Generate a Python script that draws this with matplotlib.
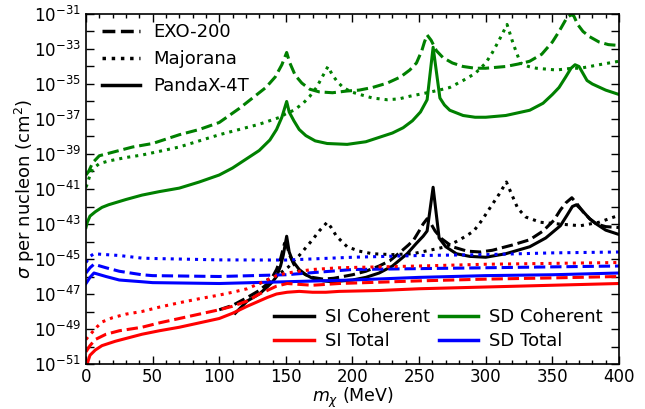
import numpy as np
import matplotlib
matplotlib.use('Agg')
import matplotlib.pyplot as plt
from matplotlib.lines import Line2D
from matplotlib.ticker import FixedLocator, FuncFormatter, MultipleLocator, NullLocator

# values are log10(sigma / cm^2)
# SD coherent (green)
sdc_exo_m = [0, 2, 5, 10, 20, 35, 50, 70, 85, 100, 115, 125, 135, 142, 147, 150.6, 153, 157, 162, 168, 175,
             185, 196, 205, 215, 226, 236, 243, 248, 252, 254, 256, 259, 263, 268, 275, 283, 292, 300, 315,
             325, 333, 342, 350, 355, 358, 361, 364, 366, 369, 373, 378, 385, 392, 400]
sdc_exo = [-40.2, -40.0, -39.5, -39.1, -38.9, -38.6, -38.4, -37.9, -37.6, -37.2, -36.4, -35.8, -35.2, -34.6,
           -33.9, -33.2, -33.8, -34.5, -34.95, -35.3, -35.45, -35.5, -35.4, -35.35, -35.2, -34.95, -34.6,
           -34.2, -33.8, -33.1, -32.6, -32.2, -32.5, -33.1, -33.5, -33.8, -34.0, -34.1, -34.1, -34.0,
           -33.85, -33.7, -33.3, -32.6, -32.0, -31.6, -31.2, -31.05, -31.1, -31.6, -32.0, -32.3, -32.6,
           -32.75, -32.8]
sdc_maj_m = [0, 1, 3, 5, 10, 17, 30, 42, 55, 70, 85, 100, 115, 130, 145.6, 150, 156, 163, 168, 173, 178,
             181.6, 185, 189, 193, 199, 205.6, 215, 226, 235, 243, 256, 265, 273, 283, 292, 300, 305, 310,
             316, 320.6, 326, 332, 338, 353, 365, 371, 385, 400]
sdc_maj = [-40.9, -40.7, -40.2, -39.85, -39.55, -39.4, -39.2, -39.06, -38.85, -38.6, -38.25, -37.9, -37.6,
           -37.3, -36.9, -36.7, -36.5, -36.1, -35.7, -35.2, -34.5, -34.0, -34.5, -34.9, -35.2, -35.45,
           -35.6, -35.8, -35.9, -35.85, -35.7, -35.5, -35.35, -35.2, -34.8, -34.4, -33.8, -33.2, -32.5,
           -31.6, -32.7, -33.8, -34.0, -34.1, -34.2, -34.1, -34.1, -33.9, -33.7]
sdc_pdx_m = [0, 1, 3, 7, 12, 17, 30, 42, 55, 70, 85, 100, 110, 120, 130, 138, 143, 147, 150.6, 152.5, 156,
             160, 165, 172, 181, 196, 210, 220, 230, 238, 245, 251, 256, 260.5, 265.6, 269, 273, 283, 292,
             300, 315, 333, 343, 350, 355, 360, 364, 367, 370, 373, 376, 380, 390, 400]
sdc_pdx = [-43.2, -42.9, -42.55, -42.3, -42.05, -41.9, -41.6, -41.35, -41.15, -40.95, -40.6, -40.2, -39.8,
           -39.3, -38.8, -38.2, -37.6, -36.9, -36.0, -36.6, -37.1, -37.6, -37.95, -38.25, -38.4, -38.45,
           -38.3, -38.05, -37.8, -37.5, -37.1, -36.6, -35.9, -32.9, -35.8, -36.2, -36.5, -36.8, -36.9,
           -36.9, -36.8, -36.5, -36.1, -35.6, -35.2, -34.6, -34.1, -33.9, -34.0, -34.4, -34.8, -35.0,
           -35.35, -35.6]

# SD total (blue)
sdt_m = [0, 3, 6, 15, 25, 42, 50, 100, 150, 200, 250, 300, 350, 400]
sdt_exo = [-45.8, -45.5, -45.3, -45.5, -45.7, -45.9, -45.95, -46.0, -45.9, -45.6, -45.55, -45.5, -45.45, -45.4]
sdt_maj = [-45.2, -44.85, -44.7, -44.75, -44.8, -44.95, -44.97, -45.05, -45.06, -44.9, -44.8, -44.75,
           -44.65, -44.6]
sdt_pdx = [-46.4, -46.05, -45.8, -46.0, -46.2, -46.3, -46.35, -46.4, -46.3, -46.2, -46.05, -45.95, -45.9,
           -45.8]

# SI total (red)
sit_exo_m = [0, 3, 7, 15, 25, 42, 55, 70, 85, 100, 110, 121, 130, 136, 143, 151, 160, 170, 190, 250, 300,
             350, 400]
sit_exo = [-50.3, -49.95, -49.6, -49.3, -49.1, -48.9, -48.65, -48.4, -48.15, -47.9, -47.7, -47.4, -47.0,
           -46.8, -46.55, -46.4, -46.45, -46.5, -46.4, -46.25, -46.15, -46.08, -46.0]
sit_maj_m = [0, 2, 4.5, 8, 12, 20, 30, 42, 55, 70, 85, 100, 110, 121, 130, 136, 143, 151, 160, 170, 190,
             250, 300, 350, 400]
sit_maj = [-49.6, -49.4, -49.2, -48.9, -48.6, -48.35, -48.15, -48.0, -47.75, -47.5, -47.27, -47.06, -46.9,
           -46.7, -46.4, -46.2, -45.95, -45.8, -45.7, -45.6, -45.5, -45.4, -45.3, -45.25, -45.2]
sit_pdx_m = [0.5, 1.5, 3, 7, 12, 22, 32, 42, 55, 70, 85, 100, 110, 121, 130, 136, 143, 151, 160, 170, 180,
             190, 220, 250, 300, 350, 400]
sit_pdx = [-51.2, -50.85, -50.5, -50.2, -49.95, -49.7, -49.5, -49.3, -49.1, -48.9, -48.65, -48.4, -48.1,
           -47.7, -47.4, -47.2, -47.0, -46.9, -46.85, -46.9, -46.9, -46.85, -46.8, -46.7, -46.6, -46.5,
           -46.4]

# SI coherent (black)
sic_exo_m = [100, 110, 121, 130, 138, 143, 146, 149, 151, 153, 156, 160, 165, 170, 178, 186, 193, 200, 210,
             220, 228, 236, 242, 246, 250, 253, 256, 259, 262, 267, 275, 286, 296, 305, 320, 333, 343, 351,
             356, 360, 364.6, 368, 373, 378, 383, 390, 400]
sic_exo = [-47.9, -47.65, -47.2, -46.8, -46.3, -45.6, -45.0, -44.1, -44.3, -44.8, -45.3, -45.7, -45.9,
           -46.05, -46.15, -46.1, -46.0, -45.9, -45.7, -45.4, -45.1, -44.6, -44.2, -43.9, -43.4, -43.0,
           -42.7, -43.0, -43.4, -43.85, -44.3, -44.55, -44.6, -44.5, -44.2, -43.9, -43.4, -42.8, -42.2,
           -41.8, -41.5, -41.8, -42.3, -42.7, -43.0, -43.15, -43.2]
sic_maj_m = [130, 136, 146, 152, 156, 160, 165, 170, 175, 181, 184, 188, 192, 196, 205, 215, 230, 245, 258,
             270, 278, 285, 291, 297, 303, 310, 315.5, 320, 324, 330, 341, 355, 371, 385, 400]
sic_maj = [-46.4, -46.2, -45.8, -45.45, -45.1, -44.8, -44.35, -43.9, -43.4, -42.9, -43.2, -43.7, -44.0,
           -44.3, -44.55, -44.7, -44.75, -44.7, -44.5, -44.3, -44.0, -43.7, -43.4, -42.8, -42.1, -41.3,
           -40.6, -41.4, -42.1, -42.6, -42.9, -43.0, -43.1, -42.9, -42.5]
sic_pdx_m = [112, 121, 130, 136, 140, 143, 146, 148, 150.6, 152.5, 155, 160, 165, 170, 178, 185, 200, 210,
             220, 230, 241, 248, 253, 256, 260.5, 265, 270, 278, 288, 300, 315, 333, 345, 356, 361, 365,
             368, 372, 378, 383, 390, 400]
sic_pdx = [-48.1, -47.4, -47.0, -46.6, -46.3, -46.0, -45.4, -44.8, -43.7, -44.6, -45.1, -45.6, -45.9,
           -46.1, -46.25, -46.3, -46.2, -46.05, -45.8, -45.4, -44.7, -44.1, -43.7, -43.4, -40.9, -43.8,
           -44.3, -44.7, -44.85, -44.9, -44.7, -44.3, -43.8, -43.1, -42.5, -42.0, -41.9, -42.2, -42.7,
           -43.0, -43.35, -43.6]

exp_labels = ['EXO-200', 'Majorana', 'PandaX-4T']
styles = ['--', ':', '-']
chan_labels = ['SI Coherent', 'SI Total', 'SD Coherent', 'SD Total']
chan_colors = ['black', 'red', 'green', 'blue']

curves = {
    'black': [(sic_exo_m, sic_exo), (sic_maj_m, sic_maj), (sic_pdx_m, sic_pdx)],
    'green': [(sdc_exo_m, sdc_exo), (sdc_maj_m, sdc_maj), (sdc_pdx_m, sdc_pdx)],
    'blue': [(sdt_m, sdt_exo), (sdt_m, sdt_maj), (sdt_m, sdt_pdx)],
    'red': [(sit_exo_m, sit_exo), (sit_maj_m, sit_maj), (sit_pdx_m, sit_pdx)],
}

plt.rcParams['xtick.direction'] = 'in'
plt.rcParams['ytick.direction'] = 'in'
plt.rcParams['xtick.top'] = True
plt.rcParams['ytick.right'] = True
plt.rcParams['font.size'] = 12

fig = plt.figure(figsize=(6.45, 4.09), dpi=100)
ax = fig.add_axes([0.1333, 0.110, 0.8264, 0.8558])

lw = 2.2
for color in ['black', 'green', 'blue', 'red']:
    for (m, v), ls in zip(curves[color], styles):
        ax.plot(m, 10.0 ** np.array(v), color=color, ls=ls, lw=lw)

ax.set_yscale('log')
ax.set_xlim(0, 400)
ax.set_ylim(1e-51, 1e-31)
ax.xaxis.set_major_locator(MultipleLocator(50))
ax.xaxis.set_minor_locator(MultipleLocator(10))
ax.yaxis.set_major_locator(FixedLocator(10.0 ** np.arange(-51, -30)))
ax.yaxis.set_minor_locator(NullLocator())


def ylab(y, pos):
    e = int(round(np.log10(y)))
    if e % 2 == 0:
        return ''
    return r'$10^{%d}$' % e


ax.yaxis.set_major_formatter(FuncFormatter(ylab))
ax.tick_params(which='major', length=6, width=1, labelsize=12)
ax.tick_params(axis='x', which='major', pad=3)
ax.tick_params(which='minor', length=3, width=1)
for s in ax.spines.values():
    s.set_linewidth(1.2)

ax.set_xlabel(r'$m_\chi$ (MeV)', fontsize=12.5, labelpad=-0.5)
ax.set_ylabel(r'$\sigma$ per nucleon (cm$^2$)', fontsize=13, labelpad=-2)

h1 = [Line2D([], [], color='black', ls=ls, lw=2.5) for ls in styles]
leg1 = ax.legend(h1, exp_labels, loc='upper left', bbox_to_anchor=(0, 1.02), frameon=False, fontsize=13,
                 handlelength=2.1, handletextpad=0.7)
ax.add_artist(leg1)
h2 = [Line2D([], [], color=c, ls='-', lw=2.5) for c in chan_colors]
ax.legend(h2, chan_labels, loc='lower right', bbox_to_anchor=(1, -0.006), ncol=2, frameon=False,
          fontsize=13, handlelength=2.2, handletextpad=0.6, columnspacing=0.5, labelspacing=0.3)

fig.savefig('out.png', dpi=100)
